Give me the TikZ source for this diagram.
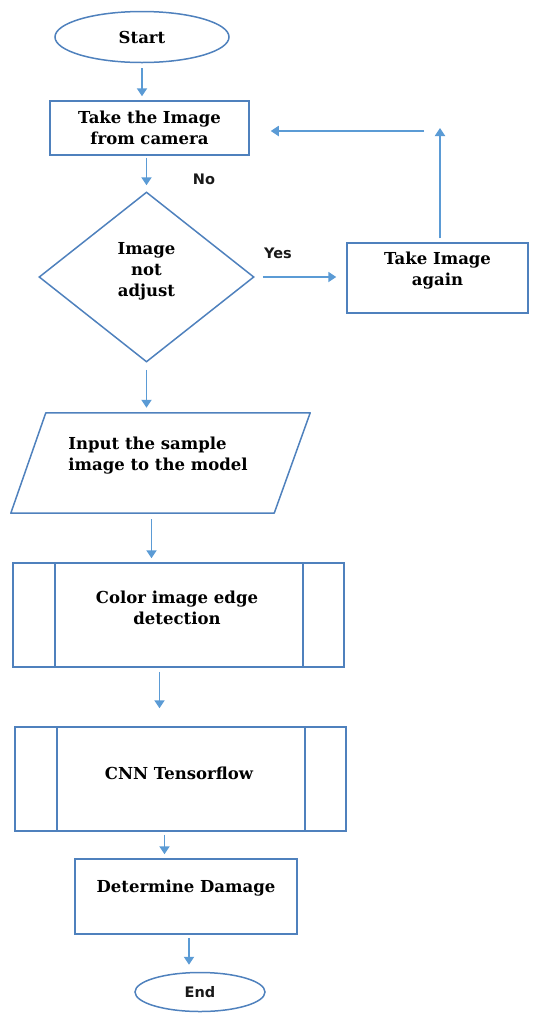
\documentclass[tikz,border=0pt]{standalone}
\usepackage{fontspec}
\setmainfont{DejaVu Serif}
\newfontfamily\tagfont{DejaVu Sans}
\usetikzlibrary{shapes.geometric,arrows.meta}
\definecolor{boxblue}{RGB}{79,129,189}
\definecolor{arrblue}{RGB}{91,155,213}
\tikzset{
  box/.style={draw=boxblue, line width=1.5pt, inner sep=0pt},
  txt/.style={font=\fontsize{16.5}{21}\selectfont\bfseries, align=center, text=black},
  tag/.style={font=\fontsize{14.5}{17}\tagfont\bfseries, text=black!90},
  arr/.style={draw=arrblue, line width=1.8pt, -{Triangle[length=8pt,width=10pt]}},
  subproc/.style={box, path picture={
      \draw[boxblue, line width=1.5pt]
        ([xshift=42pt]path picture bounding box.north west) -- ([xshift=42pt]path picture bounding box.south west)
        ([xshift=-41pt]path picture bounding box.north east) -- ([xshift=-41pt]path picture bounding box.south east);}}
}
\begin{document}
\begin{tikzpicture}[x=1pt,y=-1pt]
	\useasboundingbox (0,0) rectangle (542,1013);
	% shapes
	\node[box, ellipse, txt, minimum width=174pt, minimum height=51pt] (start) at (142,37) {Start};
	\node[box, txt, minimum width=199pt, minimum height=54pt] (take) at (149.5,128) {Take the Image\\from camera};
	\node[box, diamond, minimum width=215pt, minimum height=170pt] (dia) at (146.5,277) {};
	\node[box, minimum width=181pt, minimum height=70pt] (again) at (437.5,278) {};
	\node[inner sep=0pt, minimum width=299pt, minimum height=100pt] (inp) at (160.5,463) {};
	\draw[box, line join=round] (inp.south west) -- ([xshift=35pt]inp.north west) -- (inp.north east)
	      -- ([xshift=-36pt]inp.south east) -- cycle;
	\node[subproc, minimum width=331pt, minimum height=104pt] (col) at (178.5,615) {};
	\node[subproc, minimum width=331pt, minimum height=104pt] (cnn) at (180.5,779) {};
	\node[box, minimum width=222pt, minimum height=75pt] (det) at (186,896.5) {};
	\node[box, ellipse, tag, minimum width=130pt, minimum height=39pt] (stop) at (200,992) {End};
	% texts
	\node[txt] (tDia) at ([yshift=6pt]dia.center) {Image\\not\\adjust};
	\node[txt] (tAgain) at ([yshift=7.5pt]again.center) {Take Image\\again};
	\node[txt, align=left] (tInp) at ([xshift=-2.5pt,yshift=7pt]inp.center) {Input the sample\\image to the model};
	\node[txt] (tCol) at ([xshift=-1.5pt,yshift=7pt]col.center) {Color image edge\\detection};
	\node[txt] (tCnn) at ([xshift=-1.5pt,yshift=6pt]cnn.center) {CNN Tensorflow};
	\node[txt] (tDet) at ([yshift=8.5pt]det.center) {Determine Damage};
	\node[tag] (no) at (204,179) {No};
	\node[tag] (yes) at (278,253) {Yes};
	% arrows
	\draw[arr, shorten <=5pt, shorten >=4pt] (start.south) -- (start.south |- take.north);
	\draw[arr, shorten <=2pt, shorten >=6pt] (take.south -| dia.north) -- (dia.north);
	\draw[arr, shorten <=7pt, shorten >=5pt] (dia.south) -- (dia.south |- inp.north);
	\draw[arr, shorten <=6pt, shorten >=4pt] ([xshift=-9pt]inp.south) -- ([xshift=-9pt]inp.south |- col.north);
	\draw[arr, shorten <=4pt, shorten >=18pt] ([xshift=-19pt]col.south) -- ([xshift=-19pt]col.south |- cnn.north);
	\draw[arr, shorten <=3pt, shorten >=4pt] ([xshift=-16pt]cnn.south) -- ([xshift=-16pt]cnn.south |- det.north);
	\draw[arr, shorten <=3pt, shorten >=7pt] ([xshift=3pt]det.south) -- ([xshift=3pt]det.south |- stop.north);
	\draw[arr, shorten <=8pt, shorten >=10pt] (dia.east) -- (dia.east -| again.west);
	\coordinate (loopTop) at (440,128);
	\coordinate (loopA) at (424,131);
	\draw[arr, shorten <=4pt] ([xshift=2.5pt]again.north) -- (loopTop);
	\draw[arr, shorten >=21pt] (loopA) -- (loopA -| take.east);
\end{tikzpicture}
\end{document}
